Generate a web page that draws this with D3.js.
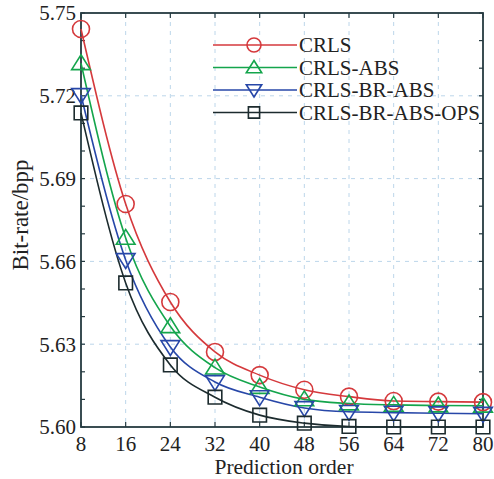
<!DOCTYPE html>
<html>
<head>
<meta charset="utf-8">
<script src="https://cdn.jsdelivr.net/npm/d3@7"></script>
<style>
  body { margin: 0; background: #fff; }
  svg { display: block; font-family: "Liberation Serif", "Times New Roman", serif; }
</style>
</head>
<body>
<div id="chart"></div>
<script>
// data
const orders = [8, 16, 24, 32, 40, 48, 56, 64, 72, 80];
const crls = [5.7442, 5.6808, 5.6453, 5.6272, 5.6188, 5.6135, 5.6110, 5.6094, 5.6092, 5.6090];
const crlsAbs = [5.7318, 5.6685, 5.6365, 5.6215, 5.6145, 5.6100, 5.6085, 5.6080, 5.6078, 5.6077];
const crlsBrAbs = [5.7203, 5.6605, 5.6290, 5.6163, 5.6108, 5.6069, 5.6055, 5.6052, 5.6050, 5.6048];
const crlsBrAbsOps = [5.7138, 5.6522, 5.6225, 5.6108, 5.6043, 5.6014, 5.6002, 5.6000, 5.6000, 5.6000];
const seriesNames = ["CRLS", "CRLS-ABS", "CRLS-BR-ABS", "CRLS-BR-ABS-OPS"];
const yTicks = [5.60, 5.63, 5.66, 5.69, 5.72, 5.75];

const series = [
    {name: seriesNames[0], values: crls, color: "#d5393c", marker: "circle"},
    {name: seriesNames[1], values: crlsAbs, color: "#14a54c", marker: "up"},
    {name: seriesNames[2], values: crlsBrAbs, color: "#2747a8", marker: "down"},
    {name: seriesNames[3], values: crlsBrAbsOps, color: "#1c2b2e", marker: "square"}
];

const width = 494, height = 479;
const svg = d3.select("#chart").append("svg")
    .attr("width", width)
    .attr("height", height);

const x = d3.scaleLinear().domain([8, 80]).range([81, 483]);
const y = d3.scaleLinear().domain([5.60, 5.75]).range([427, 13]);

const axisColor = "#253a40";

// grid
const grid = svg.append("g");
orders.slice(1, -1).forEach(d => {
    grid.append("line")
        .attr("x1", x(d)).attr("x2", x(d))
        .attr("y1", y.range()[1]).attr("y2", y.range()[0])
        .attr("stroke", "#bcd6ea").attr("stroke-dasharray", "4,5");
});
yTicks.slice(1, -1).forEach(d => {
    grid.append("line")
        .attr("x1", x.range()[0]).attr("x2", x.range()[1])
        .attr("y1", y(d)).attr("y2", y(d))
        .attr("stroke", "#bcd6ea").attr("stroke-dasharray", "4,5");
});

// inward ticks on all sides
const minorY = d3.range(5.60, 5.7501, 0.01);
const ticks = svg.append("g").attr("stroke", axisColor).attr("stroke-width", 1.2);
minorY.forEach(d => {
    ticks.append("line").attr("x1", x.range()[0]).attr("x2", x.range()[0] + 4).attr("y1", y(d)).attr("y2", y(d));
    ticks.append("line").attr("x1", x.range()[1]).attr("x2", x.range()[1] - 4).attr("y1", y(d)).attr("y2", y(d));
});
orders.forEach(d => {
    ticks.append("line").attr("x1", x(d)).attr("x2", x(d)).attr("y1", y.range()[1]).attr("y2", y.range()[1] + 5);
    ticks.append("line").attr("x1", x(d)).attr("x2", x(d)).attr("y1", y.range()[0]).attr("y2", y.range()[0] - 5);
});

// frame
svg.append("rect")
    .attr("x", x.range()[0]).attr("y", y.range()[1])
    .attr("width", x.range()[1] - x.range()[0])
    .attr("height", y.range()[0] - y.range()[1])
    .attr("fill", "none").attr("stroke", axisColor).attr("stroke-width", 1.8);

// tick labels
svg.append("g").selectAll("text").data(yTicks).join("text")
    .attr("x", x.range()[0] - 5)
    .attr("y", d => y(d))
    .attr("dy", "0.35em")
    .attr("text-anchor", "end")
    .attr("font-size", "21px")
    .attr("fill", "#222")
    .text(d => d.toFixed(2));

svg.append("g").selectAll("text").data(orders).join("text")
    .attr("x", d => x(d))
    .attr("y", 451)
    .attr("text-anchor", "middle")
    .attr("font-size", "21px")
    .attr("fill", "#222")
    .text(d => d);

svg.append("text")
    .attr("x", 284)
    .attr("y", 474)
    .attr("text-anchor", "middle")
    .attr("font-size", "21.5px")
    .attr("fill", "#222")
    .text("Prediction order");

svg.append("text")
    .attr("transform", "translate(28,215) rotate(-90)")
    .attr("text-anchor", "middle")
    .attr("font-size", "23px")
    .attr("fill", "#222")
    .text("Bit-rate/bpp");

// marker shapes
function markerPath(type, s) {
    if (type === "circle") {
        return "M" + s + ",0A" + s + "," + s + " 0 1,1 " + (-s) + ",0A" + s + "," + s + " 0 1,1 " + s + ",0Z";
    }
    if (type === "up") {
        return "M0," + (-s) + "L" + (s * 1.1) + "," + (s * 0.75) + "L" + (-s * 1.1) + "," + (s * 0.75) + "Z";
    }
    if (type === "down") {
        return "M0," + s + "L" + (s * 1.1) + "," + (-s * 0.75) + "L" + (-s * 1.1) + "," + (-s * 0.75) + "Z";
    }
    const h = s * 0.8;
    return "M" + (-h) + "," + (-h) + "H" + h + "V" + h + "H" + (-h) + "Z";
}

const line = d3.line()
    .x((d, i) => x(orders[i]))
    .y(d => y(d))
    .curve(d3.curveMonotoneX);

series.forEach(s => {
    svg.append("path")
        .attr("d", line(s.values))
        .attr("fill", "none")
        .attr("stroke", s.color)
        .attr("stroke-width", 1.6);
});

series.forEach(s => {
    svg.append("g").selectAll("path").data(s.values).join("path")
        .attr("transform", (d, i) => "translate(" + x(orders[i]) + "," + y(d) + ")")
        .attr("d", markerPath(s.marker, 8.5))
        .attr("fill", "none")
        .attr("stroke", s.color)
        .attr("stroke-width", 1.6);
});

// legend
const legend = svg.append("g");
series.forEach((s, i) => {
    const ly = 45 + i * 22.5;
    legend.append("line")
        .attr("x1", 213).attr("x2", 297)
        .attr("y1", ly).attr("y2", ly)
        .attr("stroke", s.color).attr("stroke-width", 1.6);
    legend.append("path")
        .attr("transform", "translate(254," + ly + ")")
        .attr("d", markerPath(s.marker, 7))
        .attr("fill", "none")
        .attr("stroke", s.color)
        .attr("stroke-width", 1.6);
    legend.append("text")
        .attr("x", 299)
        .attr("y", ly)
        .attr("dy", "0.35em")
        .attr("font-size", "21px")
        .attr("fill", "#222")
        .text(s.name);
});
</script>
</body>
</html>
